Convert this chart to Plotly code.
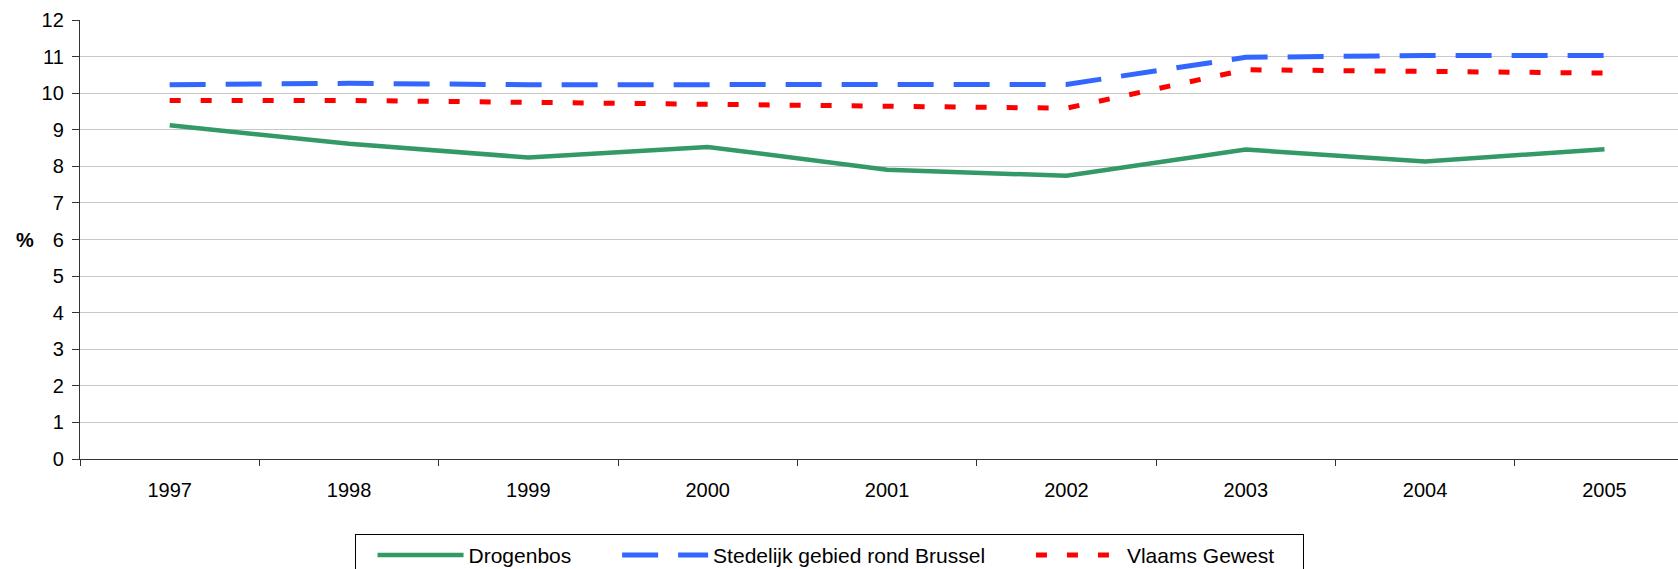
import plotly.graph_objects as go

years = ["1997", "1998", "1999", "2000", "2001", "2002", "2003", "2004", "2005"]
drogenbos = [9.12, 8.62, 8.24, 8.53, 7.91, 7.74, 8.46, 8.13, 8.47]
stedelijk = [10.23, 10.27, 10.23, 10.24, 10.24, 10.24, 10.98, 11.03, 11.03]
vlaams = [9.80, 9.80, 9.75, 9.69, 9.62, 9.59, 10.64, 10.59, 10.55]
y_ticks = list(range(0, 13))
grid_ticks = list(range(1, 12))

FONT = "Liberation Sans, Arial, sans-serif"
PAD = "\u00a0" * 7

fig = go.Figure()
fig.add_trace(go.Scatter(x=years, y=drogenbos, name="Drogenbos" + PAD, mode="lines",
                         line=dict(color="#339966", width=4.5)))
fig.add_trace(go.Scatter(x=years, y=stedelijk, name="Stedelijk gebied rond Brussel" + PAD, mode="lines",
                         line=dict(color="#3366FF", width=5, dash="36px,20px")))
fig.add_trace(go.Scatter(x=years, y=vlaams, name="Vlaams Gewest" + "\u00a0" * 4, mode="lines",
                         line=dict(color="#FF0000", width=5, dash="11px,20px")))

fig.update_layout(
    width=1678, height=580,
    margin=dict(l=80, r=0, t=20, b=121),
    paper_bgcolor="white", plot_bgcolor="white",
    font=dict(family=FONT, size=20, color="black"),
    showlegend=True,
    legend=dict(orientation="h", x=0.172, y=-0.1703, xanchor="left", yanchor="top",
                bordercolor="black", borderwidth=1, font=dict(size=21, family=FONT),
                itemwidth=86, traceorder="normal",
                title=dict(text="\u00a0\u00a0", side="left", font=dict(size=12))),
    xaxis=dict(type="category", range=[-0.5, 8.41], showgrid=False,
               showline=True, linecolor="#333333", linewidth=1.3,
               ticks="outside", ticklen=6, tickcolor="#333333", tickson="boundaries",
               tickfont=dict(size=20, family=FONT), ticklabelstandoff=13),
    yaxis=dict(range=[0, 12], tickvals=y_ticks, showgrid=False, zeroline=False,
               showline=True, linecolor="#333333", linewidth=1.3,
               ticks="outside", ticklen=7, tickcolor="#333333",
               tickfont=dict(size=20, family=FONT), ticklabelstandoff=4),
    yaxis2=dict(range=[0, 12], overlaying="y", tickvals=grid_ticks, showgrid=True,
                gridcolor="#c8c8c8", gridwidth=1.2, showticklabels=False, ticks="",
                zeroline=False, showline=False),
    annotations=[dict(text="<b>%</b>", x=-0.0345, y=6, xref="paper", yref="y",
                      xanchor="center", yanchor="middle",
                      showarrow=False, font=dict(size=20, family=FONT))],
)
# invisible trace to activate the grid axis
fig.add_trace(go.Scatter(x=[years[0]], y=[None], yaxis="y2", showlegend=False, hoverinfo="skip"))

fig.write_html("out.html", config={"displayModeBar": False},
               post_script="document.body.style.margin='0';document.body.style.overflow='hidden';")
